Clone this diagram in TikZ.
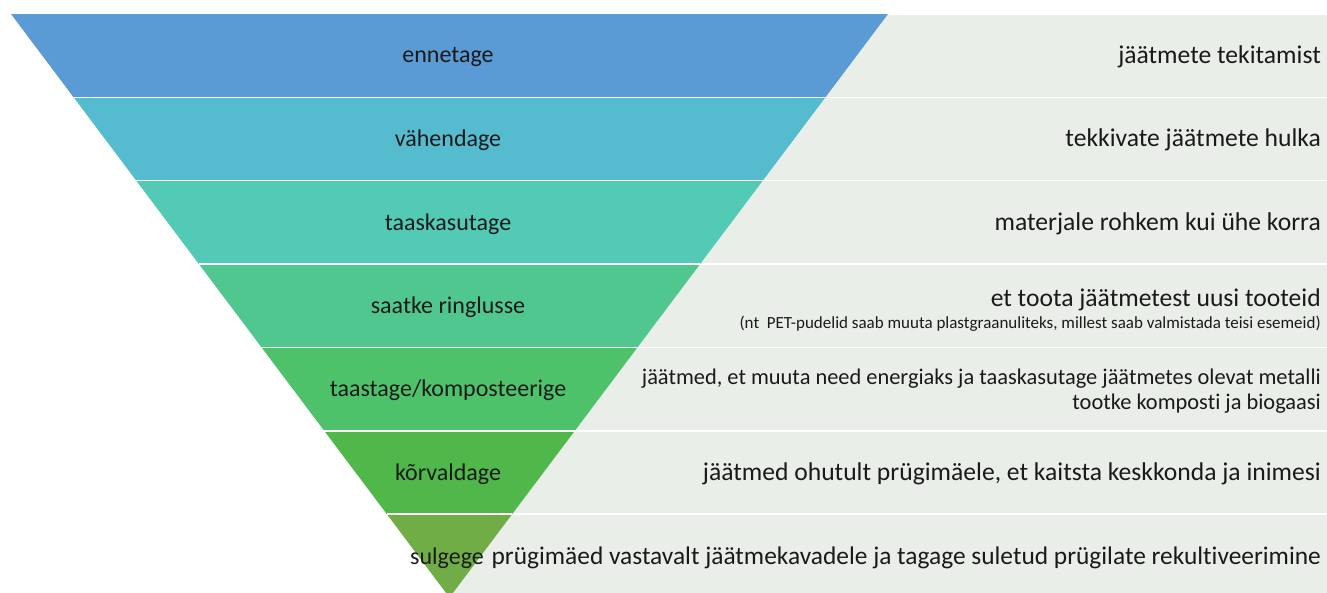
\documentclass[tikz,border=0pt]{standalone}
\usepackage{fontspec}
\setmainfont{Carlito}[Ligatures={NoCommon}]
\definecolor{c1}{HTML}{5B9BD5}
\definecolor{c2}{HTML}{55BBCF}
\definecolor{c3}{HTML}{52CAB5}
\definecolor{c4}{HTML}{4FC78F}
\definecolor{c5}{HTML}{4DC26B}
\definecolor{c6}{HTML}{50B84A}
\definecolor{c7}{HTML}{70AD47}
\definecolor{bgrow}{HTML}{E9EEE8}
\definecolor{txt}{HTML}{1A1A1A}
\tikzset{
  lvl/.style={draw=white, line width=1.5pt},
  bgbox/.style={fill=bgrow, draw=white, line width=1.5pt},
  lefttext/.style={font=\fontsize{24}{28}\selectfont, text=txt, inner sep=0pt},
  righttext/.style={font=\fontsize{25.6}{29}\selectfont, text=txt, inner sep=0pt, anchor=east, align=right},
  lasttext/.style={font=\fontsize{25.4}{29}\selectfont, text=txt, inner sep=0pt, anchor=east, align=right},
  midtext/.style={font=\fontsize{22.4}{26}\selectfont, text=txt, inner sep=0pt, anchor=east, align=right},
  smalltext/.style={font=\fontsize{17}{20}\selectfont, text=txt, inner sep=0pt, anchor=east}
}
\begin{document}
\begin{tikzpicture}[x=1pt,y=-1pt]
\useasboundingbox (0,0) rectangle (1327,592);
\fill[white] (0,0) rectangle (1327,592);
\begin{scope}
\clip (0,0) rectangle (1327,592);
% background rows
\foreach \i in {0,...,6}{
  \pgfmathsetmacro{\ya}{14+\i*83.357}
  \pgfmathsetmacro{\yb}{14+(\i+1)*83.357}
  \draw[bgbox] (449.5,\ya) rectangle (1330,\yb);
}
% triangle levels
\foreach \i/\c in {0/c1,1/c2,2/c3,3/c4,4/c5,5/c6,6/c7}{
  \pgfmathsetmacro{\ya}{14+\i*83.357}
  \pgfmathsetmacro{\yb}{14+(\i+1)*83.357}
  \pgfmathsetmacro{\la}{11+(\ya-14)*0.75150}
  \pgfmathsetmacro{\lb}{11+(\yb-14)*0.75150}
  \pgfmathsetmacro{\ra}{888-(\ya-14)*0.75150}
  \pgfmathsetmacro{\rb}{888-(\yb-14)*0.75150}
  \fill[\c] (\la,\ya) -- (\ra,\ya) -- (\rb,\yb) -- (\lb,\yb) -- cycle;
}
\foreach \i in {1,...,6}{
  \pgfmathsetmacro{\ya}{14+\i*83.357}
  \pgfmathsetmacro{\la}{11+(\ya-14)*0.75150}
  \pgfmathsetmacro{\ra}{888-(\ya-14)*0.75150}
  \draw[white, line width=1.5pt] (\la,\ya) -- (\ra,\ya);
}
\end{scope}
% left labels
\node[lefttext] (l1) at (448,57) {ennetage};
\node[lefttext] (l2) at (448,140) {vähendage};
\node[lefttext] (l3) at (448,224) {taaskasutage};
\node[lefttext] (l4) at (448,307) {saatke ringlusse};
\node[lefttext] (l5) at (448,390) {taastage/komposteerige};
\node[lefttext] (l6) at (448,474) {kõrvaldage};
\node[lefttext] (l7) at (447,558) {sulgege};
% right texts
\node[righttext] (r1) at (1321,57) {jäätmete tekitamist};
\node[righttext] (r2) at (1321,140) {tekkivate jäätmete hulka};
\node[righttext] (r3) at (1321,224) {materjale rohkem kui ühe korra};
\node[righttext] (r4) at (1321,300) {et toota jäätmetest uusi tooteid};
\node[smalltext] (r4b) at (1321,324) {(nt\ \ PET-pudelid saab muuta plastgraanuliteks, millest saab valmistada teisi esemeid)};
\node[midtext] (r5) at (1321,379) {jäätmed, et muuta need energiaks ja taaskasutage jäätmetes olevat metalli};
\node[midtext] (r5b) at (1321,404) {tootke komposti ja biogaasi};
\node[righttext] (r6) at (1321,474) {jäätmed ohutult prügimäele, et kaitsta keskkonda ja inimesi};
\node[lasttext] (r7) at (1321,558) {prügimäed vastavalt jäätmekavadele ja tagage suletud prügilate rekultiveerimine};
\end{tikzpicture}
\end{document}
